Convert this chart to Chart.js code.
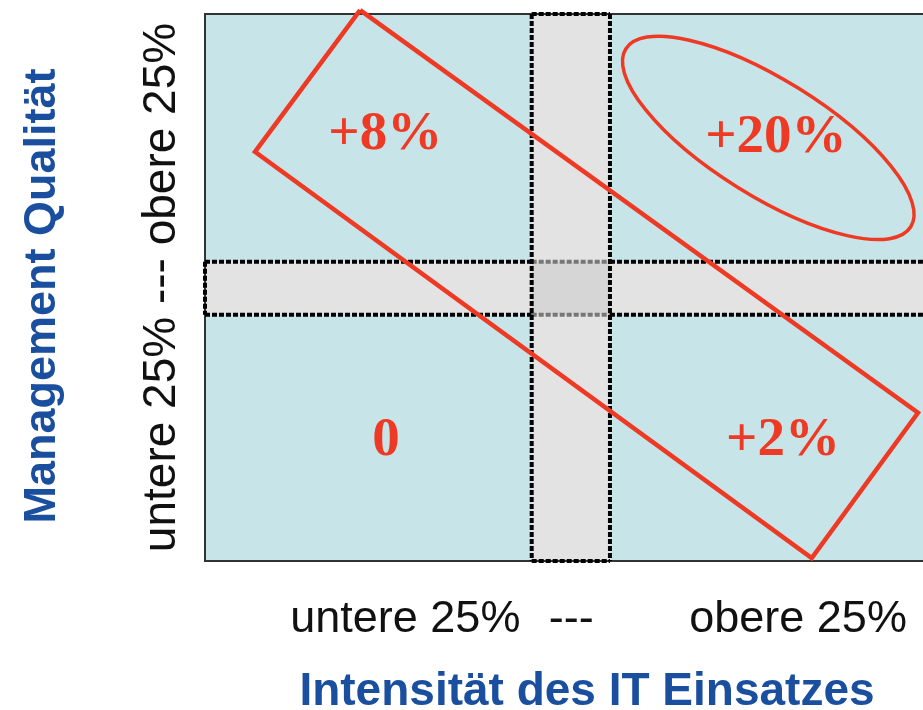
<!DOCTYPE html>
<html>
<head>
<meta charset="utf-8">
<script src="https://cdn.jsdelivr.net/npm/chart.js@4"></script>
<style>
  html, body { margin: 0; padding: 0; background: #fff; }
  canvas { display: block; }
</style>
</head>
<body>
<canvas id="quadChart" width="923" height="710"></canvas>
<script>
// axis texts
const xTickValues = [27.9, 51.0, 82.6];
const xTickLabels = ['untere 25%', '---', 'obere 25%'];
const yAxisLabel = 'untere 25% --- obere 25%';
const xAxisTitle = 'Intensität des IT Einsatzes';
const yAxisTitle = 'Management Qualität';

// middle (25-75%) bands
const bandX = [45.5, 56.4];
const bandY = [45.0, 54.7];

// tilted rectangle corners (closed)
const boxX = [21.6, 99.3, 84.5, 6.96, 21.6];
const boxY = [100.7, 27.1, 0.55, 74.8, 100.7];

// ellipse: two ends of major axis, then two ends of minor axis
const ellipseX = [58.6, 98.3, 74.1, 82.7];
const ellipseY = [93.6, 61.1, 68.3, 86.3];

// quadrant values
const quadLabels = ['+8%', '+20%', '0', '+2%'];
const quadX = [25.1, 79.5, 25.2, 80.5];
const quadY = [78.0, 77.3, 22.0, 22.0];

const RED = '#ee3a24';
const BLUE = '#1a4e9e';
const SANS = '"Liberation Sans", Arial, sans-serif';
const SERIF = '"Liberation Serif", "Times New Roman", serif';

const byId = (id) => document.getElementById(id);

const backdrop = {
  id: 'backdrop',
  beforeDatasetsDraw(chart) {
    const { ctx, chartArea: a, scales: { x, y } } = chart;
    const bx0 = x.getPixelForValue(bandX[0]), bx1 = x.getPixelForValue(bandX[1]);
    const by0 = y.getPixelForValue(bandY[1]), by1 = y.getPixelForValue(bandY[0]);
    ctx.save();
    ctx.fillStyle = '#c7e5e8';
    ctx.fillRect(a.left, a.top, a.width, a.height);
    ctx.fillStyle = '#e3e3e3';
    ctx.fillRect(bx0, a.top, bx1 - bx0, a.height);
    ctx.fillRect(a.left, by0, a.width, by1 - by0);
    ctx.fillStyle = '#d6d6d6';
    ctx.fillRect(bx0, by0, bx1 - bx0, by1 - by0);

    // plot frame
    ctx.strokeStyle = '#333';
    ctx.lineWidth = 2;
    ctx.beginPath();
    ctx.moveTo(a.right + 2, a.top);
    ctx.lineTo(a.left, a.top);
    ctx.lineTo(a.left, a.bottom);
    ctx.lineTo(a.right + 2, a.bottom);
    ctx.stroke();

    // dotted band edges
    const seg = (x0, y0, x1, y1, color) => {
      ctx.strokeStyle = color;
      ctx.beginPath();
      ctx.moveTo(x0, y0);
      ctx.lineTo(x1, y1);
      ctx.stroke();
    };
    ctx.lineWidth = 4;
    ctx.setLineDash([5, 2]);
    [by0, by1].forEach(py => {
      seg(a.left, py, bx0, py, '#000');
      seg(bx0, py, bx1, py, '#777');
      seg(bx1, py, a.right, py, '#000');
    });
    seg(a.left, by0, a.left, by1, '#000');
    [bx0, bx1].forEach(px => seg(px, a.top, px, a.bottom, '#000'));
    seg(bx0, a.top, bx1, a.top, '#000');
    seg(bx0, a.bottom, bx1, a.bottom, '#000');
    ctx.restore();
  }
};

const overlay = {
  id: 'overlay',
  afterDatasetsDraw(chart) {
    const { ctx, scales: { x, y } } = chart;
    ctx.save();

    // ellipse from its axis end points
    const p = ellipseX.map((v, i) => ({ x: x.getPixelForValue(v), y: y.getPixelForValue(ellipseY[i]) }));
    const cx = (p[0].x + p[1].x) / 2, cy = (p[0].y + p[1].y) / 2;
    const rx = Math.hypot(p[1].x - p[0].x, p[1].y - p[0].y) / 2;
    const ry = Math.hypot(p[3].x - p[2].x, p[3].y - p[2].y) / 2;
    const rot = Math.atan2(p[1].y - p[0].y, p[1].x - p[0].x);
    ctx.strokeStyle = RED;
    ctx.lineWidth = 3.5;
    ctx.beginPath();
    ctx.ellipse(cx, cy, rx, ry, rot, 0, Math.PI * 2);
    ctx.stroke();

    // quadrant numbers
    ctx.fillStyle = RED;
    ctx.font = 'bold 55px ' + SERIF;
    ctx.textAlign = 'center';
    ctx.textBaseline = 'middle';
    quadLabels.forEach((t, i) => ctx.fillText(t, x.getPixelForValue(quadX[i]), y.getPixelForValue(quadY[i])));
    ctx.restore();
  },
  afterDraw(chart) {
    const { ctx, chartArea: a } = chart;
    ctx.save();
    ctx.fillStyle = BLUE;
    ctx.font = 'bold 46px ' + SANS;
    ctx.textAlign = 'center';
    ctx.textBaseline = 'alphabetic';
    ctx.fillText(xAxisTitle, a.left + 382, 705);
    ctx.font = 'bold 45px ' + SANS;
    ctx.translate(55, a.top + 282);
    ctx.rotate(-Math.PI / 2);
    ctx.fillText(yAxisTitle, 0, 0);
    ctx.restore();
  }
};

function initialiseChart() {
  const ctx = byId('quadChart').getContext('2d');
  return new Chart(ctx, {
    type: 'scatter',
    data: {
      datasets: [{
        data: boxX.map((v, i) => ({ x: v, y: boxY[i] })),
        showLine: true,
        borderColor: RED,
        borderWidth: 4.5,
        pointRadius: 0,
        fill: false,
        clip: false
      }]
    },
    options: {
      responsive: false,
      animation: false,
      devicePixelRatio: 1,
      layout: { padding: { top: 14, left: 0, right: 0, bottom: 0 } },
      scales: {
        x: {
          type: 'linear', position: 'bottom', min: 0, max: 100,
          grid: { display: false }, border: { display: false },
          afterBuildTicks: (scale) => { scale.ticks = xTickValues.map(v => ({ value: v })); },
          afterFit: (scale) => {
            scale.height = 149;
            scale.paddingLeft = 0;
            scale.paddingRight = 0;
          },
          ticks: {
            autoSkip: false, maxRotation: 0, padding: 24, color: '#111',
            font: { family: SANS, size: 45 },
            callback: (v, i) => xTickLabels[i]
          }
        },
        y: {
          type: 'linear', position: 'left', min: 0, max: 100,
          grid: { display: false }, border: { display: false },
          ticks: { display: false },
          afterFit: (scale) => {
            scale.width = 205;
            scale.paddingTop = 0;
            scale.paddingBottom = 0;
          },
          title: {
            display: true, text: yAxisLabel, color: '#111',
            font: { family: SANS, size: 46 },
            padding: { top: 135, bottom: 0 }
          }
        }
      },
      plugins: { legend: { display: false }, tooltip: { enabled: false } }
    },
    plugins: [backdrop, overlay]
  });
}

initialiseChart();
</script>
</body>
</html>
